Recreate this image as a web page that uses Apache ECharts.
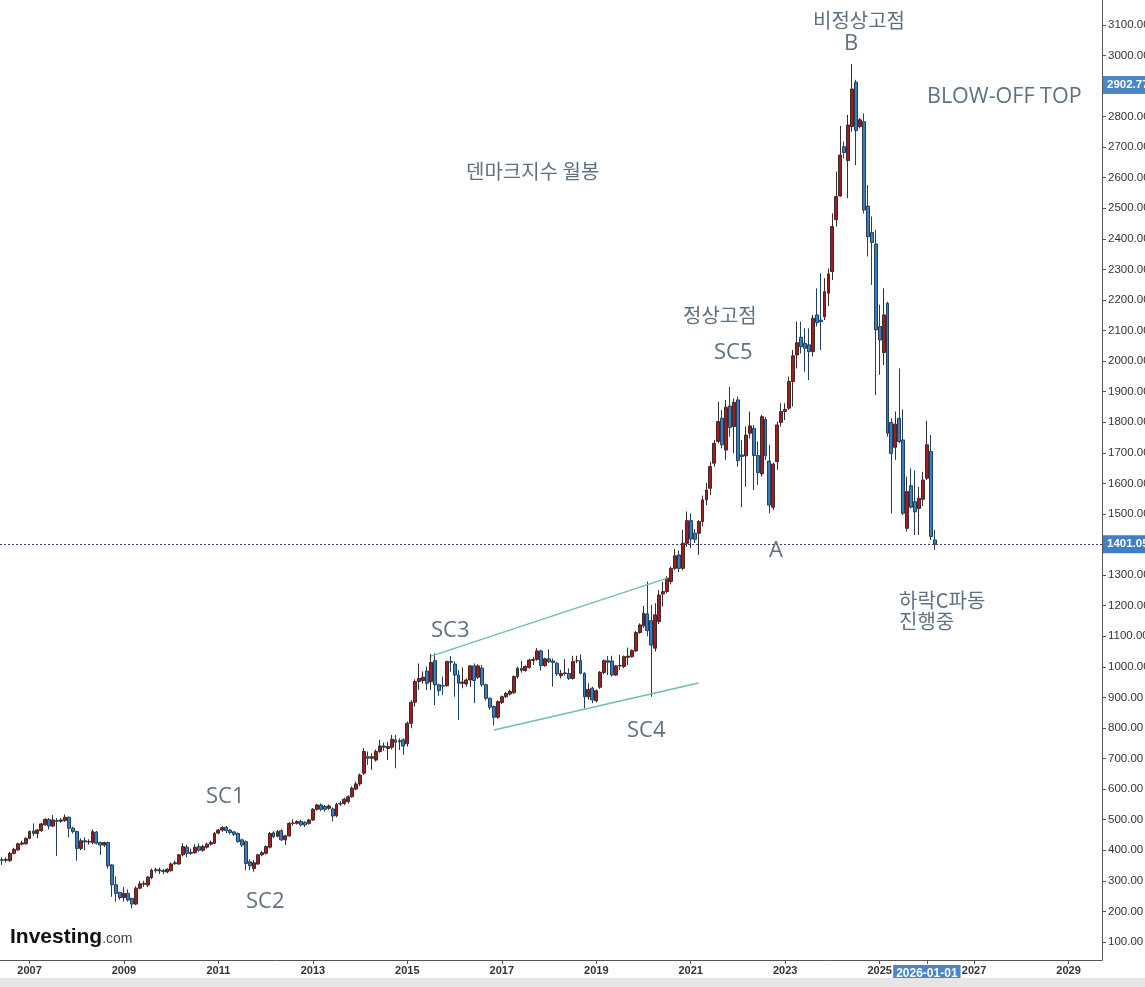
<!DOCTYPE html>
<html><head><meta charset="utf-8">
<script src="https://cdn.jsdelivr.net/npm/echarts@6/dist/echarts.min.js"></script>
<style>html,body{margin:0;padding:0;background:#fff}#c{width:1145px;height:987px}</style>
</head><body><div id="c"></div>
<script>
// Monthly candles from 2006-06 (index 0) to 2026-03
const openP = [369,367,366,390,401,420,421,439,463,455,464,483,501,479,497,495,497,508,472,461,406,431,427,425,459,425,417,425,352,287,262,245,259,242,224,276,289,286,310,337,333,334,329,333,356,355,385,410,390,392,412,400,410,420,423,456,466,475,466,460,455,434,428,362,340,355,385,390,410,457,446,464,434,447,488,488,494,491,488,499,534,548,543,537,535,513,553,553,559,575,600,617,652,706,701,695,723,741,733,737,761,755,761,748,815,884,952,955,986,951,1020,941,938,938,1017,1009,973,946,944,957,1003,966,996,941,897,870,835,883,902,911,915,968,995,988,998,1021,1024,1052,1004,1026,1019,1012,971,978,978,962,1020,1020,979,902,930,889,933,981,1020,1019,973,1003,1001,1031,1033,1052,1112,1134,1173,1151,1061,1148,1238,1246,1279,1322,1366,1322,1404,1478,1437,1437,1475,1546,1584,1666,1737,1813,1709,1853,1786,1873,1693,1690,1764,1780,1691,1631,1809,1673,1522,1671,1799,1835,1846,1933,2020,2078,2058,2053,2031,2151,2134,2145,2222,2293,2462,2540,2701,2656,2767,2912,2767,2783,2507,2420,2383,2113,2028,2189,1799,1718,1813,1742,1453,1592,1540,1518,1548,1617,1704,1415];
const closeP = [367,370,390,403,421,424,439,461,455,466,486,501,479,499,495,499,508,472,461,406,431,427,429,461,423,417,425,349,287,259,245,259,237,224,276,290,292,312,335,333,336,330,338,355,359,385,412,390,393,410,400,412,420,425,455,466,474,464,458,452,428,417,357,349,359,385,392,412,455,444,461,434,447,488,489,494,483,483,499,534,548,534,534,545,512,550,551,567,575,603,617,646,723,701,706,723,741,737,739,763,753,758,741,815,884,952,962,966,946,1014,941,922,937,1017,1015,973,946,950,957,1003,955,1003,941,897,868,835,886,902,913,919,968,995,988,1001,1022,1024,1052,1004,1026,1017,1014,977,978,980,962,1017,1020,979,902,926,892,922,982,1020,1015,973,1003,1004,1033,1035,1053,1112,1137,1175,1118,1071,1170,1235,1246,1290,1322,1363,1322,1404,1478,1418,1417,1475,1546,1578,1655,1731,1802,1726,1849,1783,1865,1674,1688,1758,1788,1691,1635,1818,1690,1529,1663,1791,1835,1842,1933,2017,2060,2047,2042,2031,2140,2126,2129,2227,2285,2440,2538,2674,2682,2772,2890,2754,2789,2494,2407,2388,2102,2069,2151,1764,1698,1794,1737,1502,1573,1522,1507,1551,1611,1726,1426,1401];
const lowP = [352,360,362,387,398,416,418,436,447,439,460,480,468,476,381,490,493,442,455,366,400,400,418,420,419,385,411,340,248,232,238,232,232,210,220,272,280,280,305,326,322,322,325,330,352,352,380,378,385,388,395,395,405,415,420,452,460,455,452,446,425,410,335,335,330,352,380,386,406,440,442,430,417,444,480,484,478,476,484,496,530,528,526,532,494,508,545,548,553,572,596,610,646,679,663,690,719,725,695,730,668,728,712,739,799,870,924,945,924,924,875,905,908,935,984,902,826,930,935,935,881,960,935,890,860,808,830,878,898,906,912,962,981,984,994,1006,1020,988,1000,1012,935,970,962,972,957,958,1012,975,864,892,881,884,928,976,973,968,970,990,996,1006,1030,1048,1108,1128,1100,902,1050,1140,1197,1240,1270,1316,1310,1316,1393,1388,1405,1366,1460,1529,1562,1655,1731,1715,1677,1753,1698,1655,1522,1589,1747,1578,1595,1622,1677,1502,1513,1644,1786,1807,1840,1851,1976,2025,1965,1938,2015,2113,2036,2134,2180,2265,2440,2538,2663,2533,2750,2641,2761,2483,2342,2249,1889,1955,1987,1753,1502,1677,1731,1497,1442,1518,1431,1431,1526,1611,1415,1382];
const highP = [377,377,395,408,425,431,442,465,488,470,490,505,505,515,505,505,517,510,477,464,439,442,436,468,463,428,428,428,355,314,264,279,272,245,282,300,300,316,340,343,343,338,341,360,366,388,423,418,405,420,422,418,425,432,460,470,479,480,470,463,458,438,432,370,368,388,397,416,460,462,466,468,450,492,501,498,500,495,503,538,552,553,548,550,540,555,560,572,580,609,625,651,734,723,717,730,761,752,755,777,777,766,766,821,890,959,1011,985,1001,1042,1044,945,968,1020,1035,1017,990,998,962,1006,1011,1008,1006,945,900,873,890,906,918,925,972,1000,1020,1005,1026,1033,1061,1056,1030,1057,1027,1015,990,1025,995,1036,1036,1041,982,946,935,926,986,1024,1035,1036,1006,1039,1037,1063,1057,1117,1142,1199,1279,1202,1208,1251,1278,1296,1328,1385,1380,1448,1508,1502,1450,1480,1560,1602,1671,1742,1867,1840,1873,1916,1878,1884,1742,1786,1835,1791,1737,1824,1818,1726,1668,1802,1862,1862,1949,2036,2129,2129,2107,2107,2151,2238,2287,2271,2303,2483,2620,2769,2718,2805,2972,2920,2795,2810,2576,2473,2429,2184,2238,2194,1813,1835,1976,1842,1622,1649,1642,1589,1638,1805,1758,1448];
const yTicks = [100,200,300,400,500,600,700,800,900,1000,1100,1200,1300,1400,1500,1600,1700,1800,1900,2000,2100,2200,2300,2400,2500,2600,2700,2800,2900,3000,3100];
const lastPrice = 1401.05;
const peakPrice = 2902.77;
const upperTrend = [['2015-07', 1035], ['2020-07', 1290]];
const lowerTrend = [['2016-11', 793], ['2021-03', 947]];
const highlightCat = '2026-01';

const categories = [];
for (let i = 0; i < 280; i++) {
  const m = 5 + i;
  const y = 2006 + Math.floor(m / 12);
  const mo = (m % 12) + 1;
  categories.push(y + '-' + (mo < 10 ? '0' + mo : '' + mo));
}
const candles = openP.map((o, i) => {
  const c = closeP[i];
  const lo = Math.min(lowP[i], o, c);
  const hi = Math.max(highP[i], o, c);
  return [o, c, lo, hi];
});

const showCat = (idx, val) => {
  const p = val.split('-');
  return (p[1] === '01' && (+p[0]) % 2 === 1) || val === highlightCat;
};

const ann = '#5f7181';
const latin = "'Open Sans','Noto Sans CJK KR',sans-serif";
const kor = "'Noto Sans CJK KR','Open Sans',sans-serif";
const axisFont = "'Liberation Sans',Arial,sans-serif";
function txt(s, x, y, size, font, align) {
  return { type: 'text', x: x, y: y, z: 100, style: { text: s, fill: ann, font: size + 'px ' + font, textAlign: align || 'left', textVerticalAlign: 'middle' } };
}

const chart = echarts.init(document.getElementById('c'));
chart.setOption({
  animation: false,
  backgroundColor: '#fff',
  grid: { left: 0, right: 43, top: 0, bottom: 27, containLabel: false, outerBoundsMode: 'none' },
  xAxis: {
    type: 'category', data: categories, boundaryGap: true,
    axisLine: { show: true, lineStyle: { color: '#555', width: 1 } },
    axisTick: { show: true, alignWithLabel: true, interval: showCat, length: 4, lineStyle: { color: '#555' } },
    axisLabel: {
      interval: showCat, margin: 5, color: '#333', fontSize: 11, fontWeight: 'bold', fontFamily: axisFont,
      formatter: (v) => v === highlightCat ? '{hl|' + v + '-01}' : v.slice(0, 4),
      rich: { hl: { backgroundColor: '#4a87c8', color: '#fff', fontWeight: 'bold', fontSize: 12, padding: [3, 3, 2, 3], fontFamily: axisFont } }
    },
    splitLine: { show: false }
  },
  yAxis: {
    type: 'value', position: 'right', min: 41, max: 3181, scale: true,
    axisLine: { show: true, lineStyle: { color: '#555', width: 1 } },
    axisTick: { show: true, inside: false, length: 4, customValues: yTicks, lineStyle: { color: '#555' } },
    axisLabel: { customValues: yTicks, margin: 6, color: '#333', fontSize: 11.5, fontFamily: axisFont, formatter: (v) => v.toFixed(2) },
    splitLine: { show: false }
  },
  series: [{
    type: 'candlestick',
    data: candles,
    barWidth: 3.4,
    itemStyle: { color: '#9e1d1d', color0: '#3a7cc2', borderColor: '#3e2a2a', borderColor0: '#22405c', borderWidth: 1 },
    markLine: {
      silent: true, symbol: ['none', 'none'], animation: false,
      data: [
        { yAxis: lastPrice, lineStyle: { color: '#2d3a6e', type: [2, 2], width: 1 },
          label: { show: true, position: 'end', distance: 1, formatter: lastPrice.toFixed(2), backgroundColor: '#3f7fc4', color: '#fff', fontWeight: 'bold', fontSize: 11.5, padding: [3, 4, 3, 4], fontFamily: axisFont } },
        { yAxis: peakPrice, lineStyle: { color: 'rgba(0,0,0,0)', width: 1 },
          label: { show: true, position: 'end', distance: 1, formatter: peakPrice.toFixed(2), backgroundColor: '#4a87c8', color: '#fff', fontWeight: 'bold', fontSize: 11.5, padding: [3, 4, 3, 4], fontFamily: axisFont } },
        [{ coord: upperTrend[0], lineStyle: { color: '#6dc2a6', width: 1.5, type: 'solid' }, label: { show: false } }, { coord: upperTrend[1] }],
        [{ coord: lowerTrend[0], lineStyle: { color: '#6dc2a6', width: 1.5, type: 'solid' }, label: { show: false } }, { coord: lowerTrend[1] }]
      ]
    }
  }],
  graphic: [
    txt('비정상고점', 813, 20, 20, kor),
    txt('B', 851, 44, 22, latin, 'center'),
    txt('BLOW-OFF TOP', 927, 97, 21.5, latin),
    txt('덴마크지수 월봉', 466, 171, 20, kor),
    txt('정상고점', 683, 315, 20, kor),
    txt('SC5', 714, 353, 22, latin),
    txt('SC3', 431, 631, 22, latin),
    txt('SC4', 627, 731, 22, latin),
    txt('SC1', 206, 797, 22, latin),
    txt('SC2', 246, 902, 22, latin),
    txt('A', 769, 551, 22, latin),
    txt('하락C파동', 899, 600, 20, kor),
    txt('진행중', 899, 621, 20, kor),
    { type: 'text', x: 10, y: 937, z: 100, style: {
        text: '{a|Investing}{b|.com}', textVerticalAlign: 'middle',
        rich: { a: { fontSize: 21, fontWeight: 'bold', fill: '#111', fontFamily: axisFont },
                b: { fontSize: 14, fill: '#444', fontFamily: axisFont, padding: [4, 0, 0, 0] } } } },
    { type: 'rect', shape: { x: 0, y: 978, width: 1145, height: 9 }, style: { fill: '#e6e6e6' }, z: 50 }
  ]
});
</script>
</body></html>
